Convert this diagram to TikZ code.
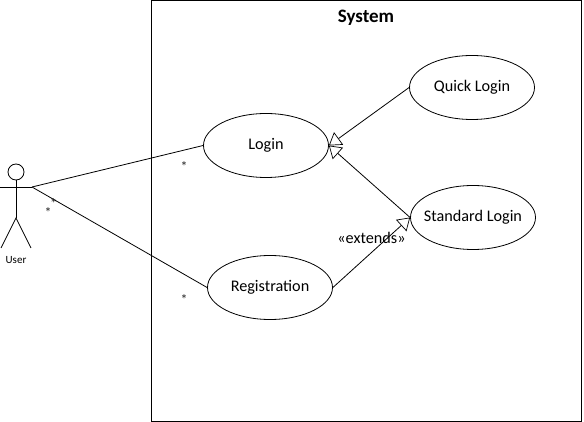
\documentclass[tikz,border=0pt]{standalone}
\usepackage{fontspec}
\setmainfont{Carlito}
\usetikzlibrary{arrows.meta,shapes.geometric}
\tikzset{
  x=1pt,y=-1pt,
  usecase/.style={draw=black,ellipse,line width=0.8pt,minimum width=125pt,minimum height=64pt,inner sep=0pt,font=\fontsize{16.2}{18}\selectfont},
  casetext/.style={inner sep=0pt,font=\fontsize{16.2}{18}\selectfont},
  wire/.style={draw=black,line width=0.8pt},
  openhead/.style={wire,-{Triangle[open,length=12pt,width=15.5pt,line width=0.7pt]}},
  mult/.style={font=\fontsize{14}{14}\selectfont,text=black!85,inner sep=0pt},
}
\begin{document}
\begin{tikzpicture}
\useasboundingbox (0,0) rectangle (584,422);
\node[draw=black,line width=1pt,minimum width=430pt,minimum height=420pt,inner sep=0pt,anchor=north west] (system) at (151,0.5) {};
\node[font=\fontsize{19}{20}\selectfont\bfseries,inner sep=0pt] (title) at (366,18) {System};
\node[usecase] (login) at (266,145.5) {\makebox[0pt]{\raisebox{-2pt}{Login}}};
\node[usecase] (quick) at (472,87.5) {\makebox[0pt]{\raisebox{-2pt}{Quick Login}}};
\node[usecase] (standard) at (473,217.5) {\makebox[0pt]{\raisebox{-2pt}{Standard Login}}};
\node[usecase] (reg) at (270,287.5) {\makebox[0pt]{\raisebox{-2pt}{Registration}}};
\node[draw=black,circle,line width=0.8pt,minimum size=16pt,inner sep=0pt] (head) at (16,172) {};
\coordinate (hip) at (16,218);
\coordinate (handL) at (0,187);
\coordinate (handR) at (32,187);
\coordinate (footL) at (1,248);
\coordinate (footR) at (31,248);
\draw[wire] (head.south) -- (hip);
\draw[wire] (handL) -- (handR);
\draw[wire] (footL) -- (hip) -- (footR);
\node[font=\fontsize{11}{12}\selectfont,inner sep=0pt] (user) at (16,260) {User};
\draw[wire] (handR) -- (login.west);
\draw[wire] (handR) -- (reg.west);
\draw[openhead] (quick.west) -- (login.east);
\draw[openhead] (standard.west) -- (login.east);
\draw[openhead] (reg.east) -- (standard.west);
\node[casetext,font=\fontsize{16.2}{18}\selectfont] (ext) at (371.5,237.5) {«extends»};
\node[mult] (m1) at (184,167) {*};
\node[mult] (m2) at (53.5,204) {*};
\node[mult] (m3) at (48,213) {*};
\node[mult] (m4) at (184,300) {*};
\end{tikzpicture}
\end{document}
